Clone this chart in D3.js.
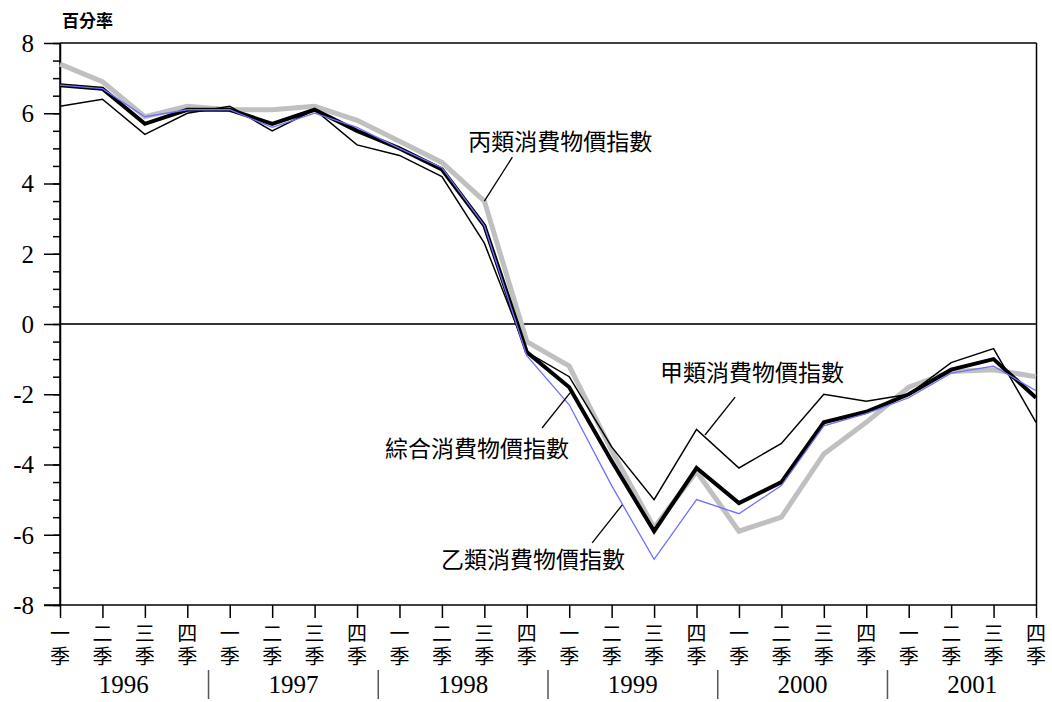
<!DOCTYPE html>
<html><head><meta charset="utf-8">
<script src="https://cdn.jsdelivr.net/npm/d3@7/dist/d3.min.js"></script>
<style>
html,body{margin:0;padding:0;background:#fff;}
svg{display:block;}
</style></head>
<body>
<svg id="chart" width="1052" height="702"></svg>
<script>
// ---- data ----
const quarters = ["一","二","三","四"];
const years = ["1996","1997","1998","1999","2000","2001"];
const yTicks = [-8,-6,-4,-2,0,2,4,6,8];
const unitLabel = "百分率";

const seriesA = [6.2, 6.4, 5.4, 6.0, 6.2, 5.5, 6.1, 5.1, 4.8, 4.2, 2.3, -0.8, -1.5, -3.5, -5.0, -3.0, -4.1, -3.4, -2.0, -2.2, -2.0, -1.1, -0.7, -2.8]; // 甲類
const seriesB = [6.8, 6.7, 5.9, 6.1, 6.1, 5.6, 6.0, 5.6, 5.0, 4.45, 2.8, -0.9, -2.3, -4.6, -6.7, -5.0, -5.4, -4.6, -2.9, -2.55, -2.1, -1.4, -1.2, -1.9]; // 乙類
const seriesC = [7.4, 6.9, 5.9, 6.2, 6.1, 6.1, 6.2, 5.8, 5.2, 4.6, 3.5, -0.5, -1.2, -3.6, -5.8, -4.2, -5.9, -5.5, -3.7, -2.8, -1.8, -1.35, -1.3, -1.5]; // 丙類
const seriesComposite = [6.8, 6.7, 5.7, 6.1, 6.1, 5.7, 6.1, 5.5, 5.0, 4.4, 2.8, -0.8, -1.8, -3.9, -5.9, -4.1, -5.1, -4.5, -2.8, -2.5, -2.0, -1.3, -1.0, -2.1]; // 綜合

const seriesNames = ["甲類消費物價指數","乙類消費物價指數","丙類消費物價指數","綜合消費物價指數"];

// annotation anchors in data space: [label, textIndex, textValue, lineFromIndex, lineFromValue, lineToIndex, lineToValue]
const annotations = [
  [seriesNames[2], 9.62, 5.2, 10.0, 3.5, 10.66, 4.75],
  [seriesNames[0], 14.14, -1.4, 15.2, -3.16, 15.91, -2.08],
  [seriesNames[3], 7.66, -3.56, 11.36, -2.96, 12.02, -1.96],
  [seriesNames[1], 8.98, -6.72, 12.54, -6.23, 13.25, -5.15]
];

// ---- layout ----
const L = 60, R = 1036, T = 43, B = 605;
const N = seriesComposite.length;
const svg = d3.select("#chart");
const x = d3.scaleLinear().domain([0, N - 1]).range([L, R]);
const y = d3.scaleLinear().domain([-8, 8]).range([B, T]);

const CJK = "'Noto Sans CJK TC','Noto Sans CJK SC',sans-serif";
const SERIF = "'Liberation Serif','Times New Roman',serif";

// frame top & right
svg.append("line").attr("x1", L).attr("x2", R + 0.5).attr("y1", T).attr("y2", T)
  .attr("stroke", "#000").attr("stroke-width", 1.5);
svg.append("line").attr("x1", R + 0.5).attr("x2", R + 0.5).attr("y1", T).attr("y2", B)
  .attr("stroke", "#000").attr("stroke-width", 1.5);

// zero line
svg.append("line").attr("x1", L).attr("x2", R).attr("y1", y(0)).attr("y2", y(0))
  .attr("stroke", "#333").attr("stroke-width", 2);

// y axis minor
const minorVals = d3.range(-8, 8.01, 0.5);
svg.append("g").attr("transform", `translate(${L},0)`)
  .call(d3.axisLeft(y).tickValues(minorVals).tickSize(7).tickSizeOuter(0).tickFormat(""))
  .call(g => g.selectAll("line").attr("stroke", "#000").attr("stroke-width", 1.5))
  .call(g => g.select(".domain").attr("stroke", "#000").attr("stroke-width", 1.5));
// y axis major
svg.append("g").attr("transform", `translate(${L},0)`)
  .call(d3.axisLeft(y).tickValues(yTicks).tickSize(16).tickSizeOuter(0).tickPadding(10).tickFormat(d => String(d)))
  .call(g => g.select(".domain").remove())
  .call(g => g.selectAll("line").attr("stroke", "#000").attr("stroke-width", 1.5))
  .call(g => g.selectAll("text").attr("font-family", SERIF).attr("font-size", 25).attr("fill", "#000").attr("dy", "0.33em"));

// x axis
svg.append("g").attr("transform", `translate(0,${B})`)
  .call(d3.axisBottom(x).tickValues(d3.range(N)).tickSize(13).tickSizeOuter(0).tickFormat(""))
  .call(g => g.select(".domain").remove())
  .call(g => g.selectAll("line").attr("stroke", "#000").attr("stroke-width", 1.5));
svg.append("line").attr("x1", L - 16).attr("x2", R + 0.5).attr("y1", B).attr("y2", B)
  .attr("stroke", "#000").attr("stroke-width", 1.5);
svg.append("line").attr("x1", L).attr("x2", L).attr("y1", T).attr("y2", B)
  .attr("stroke", "#000").attr("stroke-width", 1.5);

// quarter labels (vertical text)
const qLabels = svg.append("g").attr("font-family", CJK).attr("font-size", 20).attr("fill", "#000");
d3.range(N).forEach(i => {
  qLabels.append("text").attr("x", x(i)).attr("y", B + 18)
    .style("writing-mode", "vertical-rl").style("letter-spacing", "3px")
    .text(quarters[i % 4] + "季");
});

// year labels & separators
years.forEach((yr, k) => {
  svg.append("text").attr("x", (x(k * 4) + x(k * 4 + 3)) / 2).attr("y", B + 88)
    .attr("text-anchor", "middle").attr("font-family", SERIF).attr("font-size", 25).attr("fill", "#000").text(yr);
  if (k < years.length - 1) {
    const sx = (x(k * 4 + 3) + x(k * 4 + 4)) / 2;
    svg.append("line").attr("x1", sx).attr("x2", sx).attr("y1", B + 65).attr("y2", B + 94)
      .attr("stroke", "#555").attr("stroke-width", 1.5);
  }
});

// unit label
svg.append("text").attr("x", 62).attr("y", 27).attr("font-family", CJK).attr("font-size", 17)
  .attr("font-weight", 700).attr("fill", "#000").text(unitLabel);

// lines
const line = d3.line().x((d, i) => x(i)).y(d => y(d));
const draw = (data, color, width) => svg.append("path").datum(data)
  .attr("d", line).attr("fill", "none").attr("stroke", color).attr("stroke-width", width)
  .attr("stroke-linejoin", "miter");
draw(seriesC, "#c0c0c0", 5);
draw(seriesComposite, "#000", 4);
draw(seriesA, "#000", 1.5);
draw(seriesB, "#6f6fff", 1.3);

// annotations
annotations.forEach(a => {
  svg.append("line").attr("x1", x(a[3])).attr("y1", y(a[4])).attr("x2", x(a[5])).attr("y2", y(a[6]))
    .attr("stroke", "#000").attr("stroke-width", 1.3);
  svg.append("text").attr("x", x(a[1])).attr("y", y(a[2])).attr("dy", "0.36em")
    .attr("font-family", CJK).attr("font-size", 23).attr("fill", "#000").text(a[0]);
});
</script>
</body></html>
